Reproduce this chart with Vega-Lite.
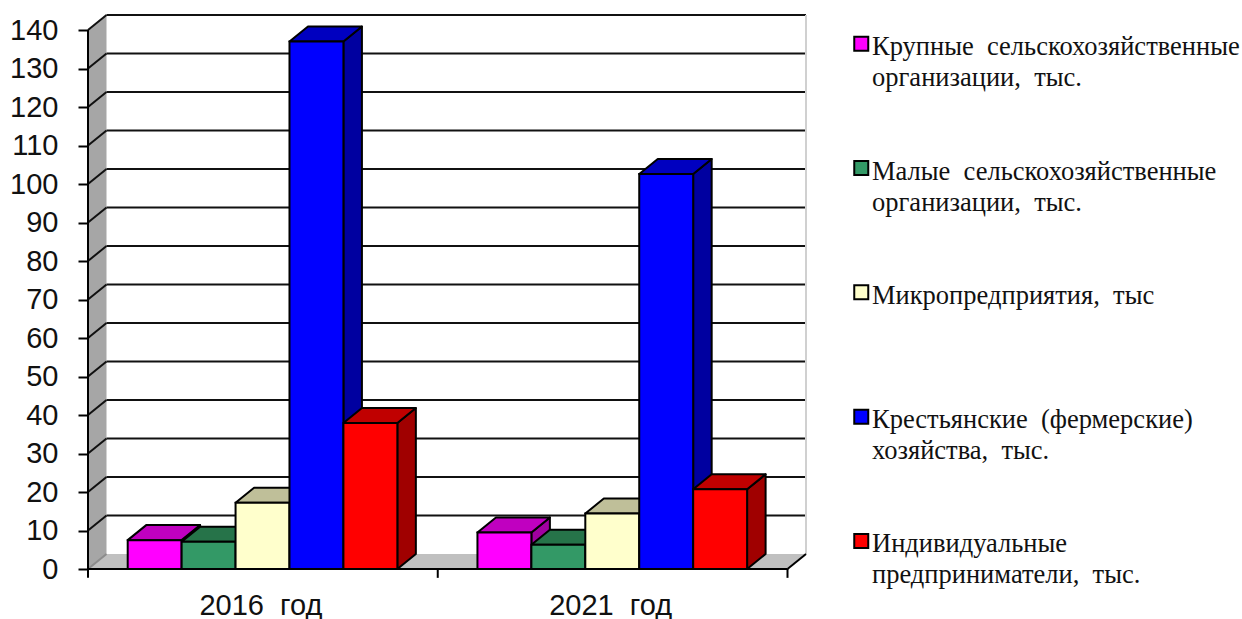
{
"$schema":"https://vega.github.io/schema/vega-lite/v6.json",
"width":718,"height":555,
"autosize":{"type":"none"},
"padding":{"left":88,"top":14,"right":436,"bottom":50},
"background":"white",
"view":{"stroke":null},
"params":[
{"name":"dx","value":0.0529},
{"name":"dv","value":3.9},
{"name":"bw","value":0.1542},
{"name":"names","value":["Крупные сельскохозяйственные организации, тыс.","Малые сельскохозяйственные организации, тыс.","Микропредприятия, тыс","Крестьянские (фермерские) хозяйства, тыс.","Индивидуальные предприниматели, тыс."]}
],
"data":{"values":[
{"year":2016,"series":"Крупные сельскохозяйственные организации, тыс.","value":7.5},
{"year":2016,"series":"Малые сельскохозяйственные организации, тыс.","value":7.1},
{"year":2016,"series":"Микропредприятия, тыс","value":17.2},
{"year":2016,"series":"Крестьянские (фермерские) хозяйства, тыс.","value":137},
{"year":2016,"series":"Индивидуальные предприниматели, тыс.","value":37.9},
{"year":2021,"series":"Крупные сельскохозяйственные организации, тыс.","value":9.5},
{"year":2021,"series":"Малые сельскохозяйственные организации, тыс.","value":6.3},
{"year":2021,"series":"Микропредприятия, тыс","value":14.4},
{"year":2021,"series":"Крестьянские (фермерские) хозяйства, тыс.","value":102.6},
{"year":2021,"series":"Индивидуальные предприниматели, тыс.","value":20.7}
]},
"transform":[
{"calculate":"indexof(names,datum.series)","as":"i"},
{"calculate":"datum.year==2016?0:1","as":"g"},
{"calculate":"datum.g+0.1135+datum.i*bw","as":"x0"},
{"calculate":"datum.x0+bw","as":"x1"}
],
"layer":[
{"data":{"values":[{"c":0},{"c":1}]},
 "transform":[{"calculate":"datum.c*dx","as":"ax"},{"calculate":"datum.c*dv","as":"lo"},{"calculate":"140+datum.c*dv","as":"hi"}],
 "mark":{"type":"area","color":"#A6A6A6","stroke":null},
 "encoding":{
  "x":{"field":"ax","type":"quantitative","scale":{"domain":[0,2.0529],"nice":false},"axis":{"values":[0.493,1.493],"title":null,"domain":false,"ticks":false,"grid":false,"labelExpr":"datum.value<1?'2016\u00a0\u00a0год':'2021\u00a0\u00a0год'","labelFont":"Liberation Sans","labelFontSize":29,"labelColor":"#111111","labelPadding":22,"labelFlush":false,"labelOverlap":false}},
  "y":{"field":"hi","type":"quantitative","scale":{"domain":[0,144.16],"nice":false},"axis":{"values":[0,10,20,30,40,50,60,70,80,90,100,110,120,130,140],"tickCount":15,"title":null,"domain":false,"grid":false,"tickSize":10,"tickColor":"#000000","tickWidth":2,"labelFont":"Liberation Sans","labelFontSize":29,"labelColor":"#111111","labelPadding":20,"labelOverlap":false}},
  "y2":{"field":"lo"}}},
{"data":{"values":[{"c":0},{"c":1},{"c":2},{"c":3}]},
 "transform":[{"calculate":"[0,dx,2,2+dx][datum.c]","as":"ax"},{"calculate":"[0,dv,dv,dv][datum.c]","as":"hi"},{"calculate":"[0,0,0,dv][datum.c]","as":"lo"}],
 "mark":{"type":"area","color":"#C0C0C0","stroke":null},
 "encoding":{
  "x":{"field":"ax","type":"quantitative","scale":{"domain":[0,2.0529],"nice":false}},
  "y":{"field":"hi","type":"quantitative","scale":{"domain":[0,144.16],"nice":false}},
  "y2":{"field":"lo"}}},
{"data":{"values":[{"t":0},{"t":10},{"t":20},{"t":30},{"t":40},{"t":50},{"t":60},{"t":70},{"t":80},{"t":90},{"t":100},{"t":110},{"t":120},{"t":130},{"t":140}]},
 "transform":[{"calculate":"datum.t+dv","as":"t2"},{"calculate":"dx","as":"a1"},{"calculate":"2+dx","as":"a2"},{"calculate":"0","as":"a0"}],
 "layer":[
 {"transform":[{"filter":"datum.t>0"}],
  "mark":{"type":"rule","color":"#111111","strokeWidth":2},
  "encoding":{
  "x":{"field":"a1","type":"quantitative","scale":{"domain":[0,2.0529],"nice":false}},
  "x2":{"field":"a2"},
  "y":{"field":"t2","type":"quantitative","scale":{"domain":[0,144.16],"nice":false}}}},
 {"mark":{"type":"rule","strokeWidth":2},
  "encoding":{
  "x":{"field":"a0","type":"quantitative","scale":{"domain":[0,2.0529],"nice":false}},
  "x2":{"field":"a1"},
  "y":{"field":"t","type":"quantitative","scale":{"domain":[0,144.16],"nice":false}},
  "y2":{"field":"t2"},
  "color":{"condition":{"test":"datum.t==0","value":"#8C8C8C"},"value":"#111111"}}}
 ]},
{"data":{"values":[{}]},
 "mark":{"type":"rule","color":"#D0D0D0","strokeWidth":2},
 "encoding":{
  "x":{"datum":2.0529,"type":"quantitative","scale":{"domain":[0,2.0529],"nice":false}},
  "y":{"datum":3.9,"type":"quantitative","scale":{"domain":[0,144.16],"nice":false}},
  "y2":{"datum":143.9}}},
{"transform":[
  {"calculate":"[0,1,2,3,4,5]","as":"v"},
  {"flatten":["v"]},
  {"calculate":"datum.v<2?'side':'top'","as":"face"},
  {"calculate":"[datum.x1,datum.x1+dx,datum.x0,datum.x0+dx,datum.x1,datum.x1+dx][datum.v]","as":"ax"},
  {"calculate":"[datum.value,datum.value+dv,datum.value,datum.value+dv,datum.value+dv,datum.value+dv][datum.v]","as":"hi"},
  {"calculate":"[0,dv,datum.value,datum.value,datum.value,datum.value+dv][datum.v]","as":"lo"},
  {"calculate":"datum.i+datum.face","as":"key"},
  {"calculate":"datum.g+'-'+datum.key","as":"poly"}
 ],
 "mark":{"type":"area","stroke":"#000000","strokeWidth":2,"strokeJoin":"round","opacity":1},
 "encoding":{
  "x":{"field":"ax","type":"quantitative","scale":{"domain":[0,2.0529],"nice":false}},
  "y":{"field":"hi","type":"quantitative","scale":{"domain":[0,144.16],"nice":false}},
  "y2":{"field":"lo"},
  "detail":{"field":"poly"},
  "color":{"field":"key","type":"nominal","legend":null,"scale":{"domain":["0top","0side","1top","1side","2top","2side","3top","3side","4top","4side"],"range":["#C000C0","#A000A0","#267349","#1F5C3D","#BFBF99","#99997A","#0000C0","#0000A0","#C00000","#A00000"]}}}},
{"mark":{"type":"bar","stroke":"#000000","strokeWidth":2,"opacity":1},
 "encoding":{
  "x":{"field":"x0","type":"quantitative","scale":{"domain":[0,2.0529],"nice":false}},
  "x2":{"field":"x1"},
  "y":{"field":"value","type":"quantitative","scale":{"domain":[0,144.16],"nice":false}},
  "y2":{"datum":0},
  "fill":{"field":"series","type":"nominal","scale":{"domain":{"expr":"names"},"range":["#FF00FF","#339966","#FFFFCC","#0000FF","#FF0000"]},
   "legend":{"orient":"none","legendX":760,"legendY":28,"title":null,"padding":0,"symbolType":"M-1,-2.64H1V-0.64H-1Z","symbolSize":196,"symbolStrokeColor":"#000000","symbolStrokeWidth":2,"labelFont":"Liberation Serif","labelFontSize":26.5,"labelColor":"#111111","labelBaseline":"alphabetic","labelLimit":600,"labelOffset":-2.5,"rowPadding":64.3,"gridAlign":"all",
   "labelExpr":"split(replace(replace(datum.label,/ (организации|хозяйства|предприниматели)/,'|$1'),/ /g,'\u00a0\u00a0'),'|')",
   "encoding":{"labels":{"lineHeight":{"value":31}}}}}}},
{"data":{"values":[{}]},
 "mark":{"type":"rule","color":"#000000","strokeWidth":2},
 "encoding":{
  "x":{"datum":0,"type":"quantitative","scale":{"domain":[0,2.0529],"nice":false}},
  "y":{"datum":0,"type":"quantitative","scale":{"domain":[0,144.16],"nice":false}},
  "y2":{"datum":140}}},
{"data":{"values":[{}]},
 "mark":{"type":"rule","color":"#000000","strokeWidth":2},
 "encoding":{
  "x":{"datum":0,"type":"quantitative","scale":{"domain":[0,2.0529],"nice":false}},
  "x2":{"datum":2},
  "y":{"datum":0,"type":"quantitative","scale":{"domain":[0,144.16],"nice":false}}}},
{"data":{"values":[{}]},
 "mark":{"type":"rule","color":"#000000","strokeWidth":2},
 "encoding":{
  "x":{"datum":2,"type":"quantitative","scale":{"domain":[0,2.0529],"nice":false}},
  "x2":{"datum":2.0529},
  "y":{"datum":0,"type":"quantitative","scale":{"domain":[0,144.16],"nice":false}},
  "y2":{"datum":3.9}}},
{"data":{"values":[{"g":0},{"g":1},{"g":2}]},
 "mark":{"type":"rule","color":"#000000","strokeWidth":2},
 "encoding":{
  "x":{"field":"g","type":"quantitative","scale":{"domain":[0,2.0529],"nice":false}},
  "y":{"datum":0,"type":"quantitative","scale":{"domain":[0,144.16],"nice":false}},
  "y2":{"datum":-2.3}}}
]
}
